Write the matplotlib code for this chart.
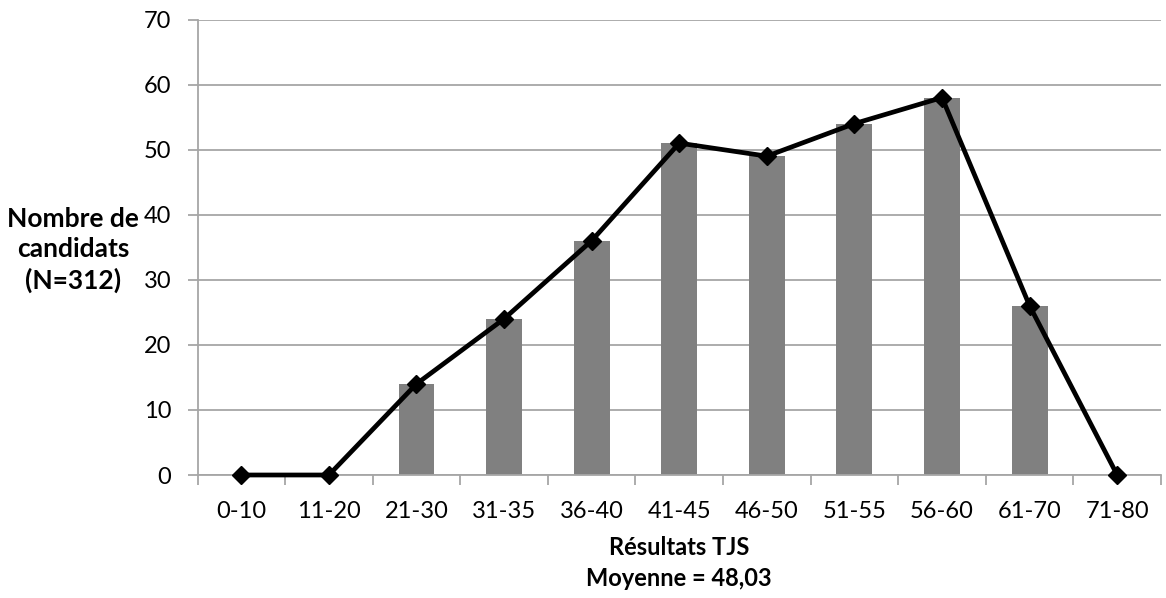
import numpy as np
import matplotlib.pyplot as plt

# Score bands and number of candidates in each
categories = ['0-10', '11-20', '21-30', '31-35', '36-40', '41-45',
              '46-50', '51-55', '56-60', '61-70', '71-80']
counts = [0, 0, 14, 24, 36, 51, 49, 54, 58, 26, 0]
y_ticks = [0, 10, 20, 30, 40, 50, 60, 70]

plt.rcParams['font.family'] = ['Lato', 'DejaVu Sans']
fs = 17
grid_col = '#a6a6a6'

fig = plt.figure(figsize=(11.66, 5.98), dpi=100)
ax = fig.add_axes([197.5 / 1166, 1 - 475 / 598, (1161 - 197.5) / 1166, (475 - 19.5) / 598])

x = np.arange(len(categories))
ax.bar(x, counts, width=0.41, color='#808080', zorder=2)
ax.plot(x, counts, color='black', lw=3.4, marker='D', markersize=9.5,
        clip_on=False, zorder=3)

ax.set_xlim(-0.5, len(categories) - 0.5)
ax.set_ylim(0, 70)
ax.set_yticks(y_ticks)
# tick marks sit between the bands, labels under each band
ax.set_xticks(np.arange(len(categories) + 1) - 0.5)
ax.set_xticklabels([])
ax.set_xticks(x, minor=True)
ax.set_xticklabels(categories, minor=True, fontsize=fs)
ax.tick_params(axis='x', which='minor', length=0, pad=19)
ax.tick_params(axis='x', which='major', length=7, width=1.3, color=grid_col)
ax.tick_params(axis='y', length=7, width=1.3, color=grid_col, labelsize=fs, pad=12)

ax.yaxis.grid(True, color=grid_col, lw=1.3, zorder=0)
ax.set_axisbelow(True)
for side in ['top', 'right']:
    ax.spines[side].set_visible(False)
for side in ['left', 'bottom']:
    ax.spines[side].set_color(grid_col)
    ax.spines[side].set_linewidth(1.3)

ax.set_ylabel('Nombre de\ncandidats\n(N=312)', rotation=0, fontsize=19,
              fontweight='bold', linespacing=1.3, ha='center', va='center')
ax.yaxis.set_label_coords(-0.129, 0.494)
ax.set_xlabel('Résultats TJS\nMoyenne = 48,03', fontsize=17, fontweight='bold',
              linespacing=1.4, ha='center', va='top')
ax.xaxis.set_label_coords(0.5, -0.135)

fig.savefig('out.png', dpi=100)
